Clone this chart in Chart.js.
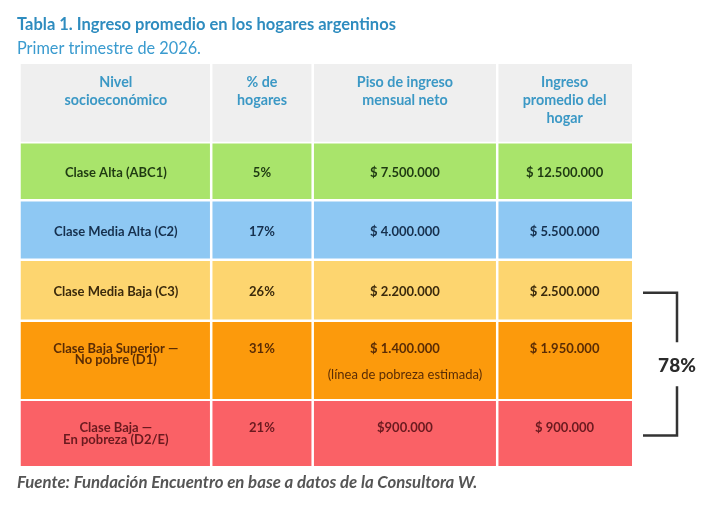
<!DOCTYPE html>
<html lang="es">
<head>
<meta charset="utf-8">
<script src="https://cdn.jsdelivr.net/npm/chart.js@4.4.1/dist/chart.umd.min.js"></script>
<style>
  html, body { margin: 0; padding: 0; background: #ffffff; }
  #wrap { position: relative; width: 709px; height: 510px; }
</style>
</head>
<body>
<div id="wrap"><canvas id="tabla" width="709" height="510"></canvas></div>
<script>
// Datos de la tabla
const encabezados = [['Nivel', 'socioeconómico'], ['% de', 'hogares'], ['Piso de ingreso', 'mensual neto'], ['Ingreso', 'promedio del', 'hogar']];
const niveles = [['Clase Alta (ABC1)'], ['Clase Media Alta (C2)'], ['Clase Media Baja (C3)'], ['Clase Baja Superior —', 'No pobre (D1)'], ['Clase Baja —', 'En pobreza (D2/E)']];
const porcentajeHogares = [5, 17, 26, 31, 21];
const pisoIngreso = [7500000, 4000000, 2200000, 1400000, 900000];
const espacioPiso = [' ', ' ', ' ', ' ', ''];
const notaPiso = [null, null, null, '(línea de pobreza estimada)', null];
const ingresoPromedio = [12500000, 5500000, 2500000, 1950000, 900000];

// Estilo de cada fila (encabezado + 5 niveles)
const coloresFila = ['#efefef', '#a9e46b', '#8ec8f3', '#fdd56f', '#fc9a0c', '#fa6166'];
const coloresTexto = ['#3b98c5', '#1f3a12', '#16304d', '#3b2a0c', '#5a2c05', '#6a1a1f'];

// Geometría de la tabla (en unidades de las escalas)
const bordesCol = [0, 190.7, 292.2, 476.7, 611.5];
const bordesFila = [0, 79, 137, 196.5, 257.5, 337, 403.4];
const GAP = 1.25;
const FONT = 'Lato, "Noto Sans", sans-serif';

function pesos(v, sep) {
    return '$' + sep + v.toLocaleString('de-DE');
}

function textosCelda(fila) {
    if (fila === 0) return encabezados;
    const i = fila - 1;
    return [
        niveles[i],
        [porcentajeHogares[i] + '%'],
        [pesos(pisoIngreso[i], espacioPiso[i])],
        [pesos(ingresoPromedio[i], ' ')]
    ];
}

const lastCol = bordesCol.length - 1;
const lastRow = bordesFila.length - 1;

const datasets = coloresFila.map((color, r) => ({
    label: r === 0 ? 'Encabezado' : niveles[r - 1].join(' '),
    data: encabezados.map((_, c) => ({
        x: [bordesCol[c] + (c > 0 ? GAP : 0), bordesCol[c + 1] - (c < lastCol - 1 ? GAP : 0)],
        y: (bordesFila[r] + bordesFila[r + 1]) / 2
    })),
    backgroundColor: color,
    borderWidth: 0,
    inflateAmount: 0,
    grouped: false,
    barThickness: (ctx) => {
        const y = ctx.chart.scales.y;
        const top = bordesFila[r] + (r > 0 ? GAP : 0);
        const bot = bordesFila[r + 1] - (r < lastRow - 1 ? GAP : 0);
        return Math.abs(y.getPixelForValue(bot) - y.getPixelForValue(top));
    }
}));

// Textos de las celdas, título, fuente y llave del 78%
const textosPlugin = {
    id: 'textos',
    afterDatasetsDraw(chart) {
        const { ctx, scales: { x, y }, chartArea } = chart;
        ctx.save();
        ctx.textAlign = 'center';
        ctx.textBaseline = 'middle';

        coloresFila.forEach((_, r) => {
            const top = y.getPixelForValue(bordesFila[r]);
            const bot = y.getPixelForValue(bordesFila[r + 1]);
            const alta = (bot - top) > 64;
            textosCelda(r).forEach((lineas, c) => {
                const cx = (x.getPixelForValue(bordesCol[c]) + x.getPixelForValue(bordesCol[c + 1])) / 2;
                let y0, paso;
                if (r === 0) {
                    y0 = top + 19; paso = 18;
                    ctx.font = `bold 14.3px ${FONT}`;
                } else {
                    paso = 11.3;
                    y0 = alta ? top + 28 : (top + bot) / 2 + 1.5 - (lineas.length - 1) * paso / 2;
                    ctx.font = `bold 13px ${FONT}`;
                }
                ctx.fillStyle = coloresTexto[r];
                lineas.forEach((t, k) => ctx.fillText(t, cx, y0 + k * paso));
                if (r > 0 && c === 2 && notaPiso[r - 1]) {
                    ctx.font = `13px ${FONT}`;
                    ctx.fillText(notaPiso[r - 1], cx, y0 + 26);
                }
            });
        });

        // Llave que agrupa las clases C3, D1 y D2/E
        const iIni = 2;
        const total = porcentajeHogares.slice(iIni).reduce((a, b) => a + b, 0);
        const yA = y.getPixelForValue((bordesFila[iIni + 1] + bordesFila[iIni + 2]) / 2) + 2.5;
        const yB = y.getPixelForValue((bordesFila[lastRow - 1] + bordesFila[lastRow]) / 2) + 2;
        const xA = chartArea.right + 11;
        const xB = chartArea.right + 45;
        const yM = (yA + yB) / 2;
        ctx.strokeStyle = '#333333';
        ctx.lineWidth = 2.5;
        ctx.beginPath();
        ctx.moveTo(xA, yA); ctx.lineTo(xB, yA); ctx.lineTo(xB, yM - 22);
        ctx.moveTo(xB, yM + 22); ctx.lineTo(xB, yB); ctx.lineTo(xA, yB);
        ctx.stroke();
        ctx.fillStyle = '#2b2b2b';
        ctx.font = `900 19px ${FONT}`;
        ctx.fillText(total + '%', xB, yM + 2);

        // Título, subtítulo y fuente
        ctx.textAlign = 'left';
        ctx.fillStyle = '#2e8cbf';
        ctx.font = `bold 16.5px ${FONT}`;
        ctx.fillText('Tabla 1. Ingreso promedio en los hogares argentinos', 17, 25);
        ctx.fillStyle = '#3a9bcf';
        ctx.font = `16.3px ${FONT}`;
        ctx.fillText('Primer trimestre de 2026.', 17, 49);
        ctx.fillStyle = '#555555';
        ctx.font = `italic bold 16.8px ${FONT}`;
        ctx.fillText('Fuente: Fundación Encuentro en base a datos de la Consultora W.', 17, 483);
        ctx.restore();
    }
};

new Chart(document.getElementById('tabla'), {
    type: 'bar',
    data: { datasets },
    options: {
        responsive: false,
        animation: false,
        indexAxis: 'y',
        layout: { padding: { left: 20.5, right: 77, top: 63.3, bottom: 43.3 } },
        scales: {
            x: { type: 'linear', min: 0, max: bordesCol[lastCol], display: false, offset: false },
            y: { type: 'linear', min: 0, max: bordesFila[lastRow], reverse: true, display: false, offset: false }
        },
        plugins: {
            legend: { display: false },
            tooltip: { enabled: false }
        }
    },
    plugins: [textosPlugin]
});
</script>
</body>
</html>
